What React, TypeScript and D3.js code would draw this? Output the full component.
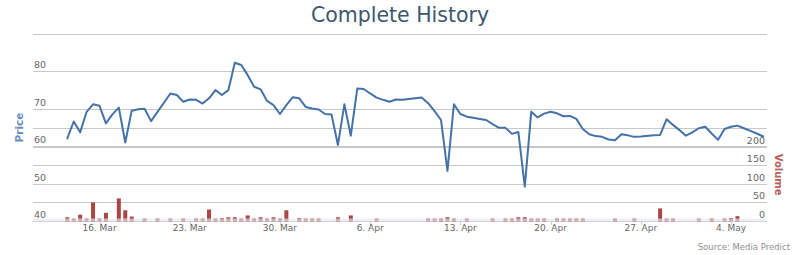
import React from "react";
import * as d3 from "d3";

const priceDates = [
  "2011-03-13 12","2011-03-14 00","2011-03-14 12","2011-03-15 00","2011-03-15 12","2011-03-16 00","2011-03-16 12",
  "2011-03-17 00","2011-03-17 12","2011-03-18 00","2011-03-18 12","2011-03-19 00","2011-03-19 12","2011-03-20 00",
  "2011-03-21 12","2011-03-22 00","2011-03-22 12","2011-03-23 00","2011-03-23 12","2011-03-24 00","2011-03-24 12",
  "2011-03-25 00","2011-03-25 12","2011-03-26 00","2011-03-26 12","2011-03-27 00","2011-03-27 12","2011-03-28 00",
  "2011-03-28 12","2011-03-29 00","2011-03-29 12","2011-03-30 00","2011-03-30 12","2011-03-31 00","2011-03-31 12",
  "2011-04-01 00","2011-04-01 12","2011-04-02 00","2011-04-02 12","2011-04-03 00","2011-04-03 12","2011-04-04 00",
  "2011-04-04 12","2011-04-05 00","2011-04-05 12","2011-04-06 00","2011-04-06 12","2011-04-07 00","2011-04-07 12",
  "2011-04-08 00","2011-04-08 12","2011-04-09 12","2011-04-10 00","2011-04-10 12","2011-04-11 00","2011-04-11 12",
  "2011-04-12 00","2011-04-12 12","2011-04-13 00","2011-04-13 12","2011-04-14 00","2011-04-14 12","2011-04-15 00",
  "2011-04-15 12","2011-04-16 00","2011-04-16 12","2011-04-17 00","2011-04-17 12","2011-04-18 00","2011-04-18 12",
  "2011-04-19 00","2011-04-19 12","2011-04-20 00","2011-04-20 12","2011-04-21 00","2011-04-21 12","2011-04-22 00",
  "2011-04-22 12","2011-04-23 00","2011-04-23 12","2011-04-24 00","2011-04-24 12","2011-04-25 00","2011-04-25 12",
  "2011-04-26 00","2011-04-26 12","2011-04-27 00","2011-04-28 00","2011-04-28 12","2011-04-29 00","2011-04-29 12",
  "2011-04-30 00","2011-04-30 12","2011-05-01 00","2011-05-01 12","2011-05-02 00","2011-05-02 12","2011-05-03 00",
  "2011-05-03 12","2011-05-04 00","2011-05-04 12","2011-05-05 00","2011-05-05 12","2011-05-06 00","2011-05-06 12",
];
const priceValues = [
  62.1, 66.6, 63.7, 69.2, 71.2, 70.8, 66.1,
  68.5, 70.3, 61.0, 69.5, 69.9, 70.0, 66.7,
  74.1, 73.7, 71.9, 72.5, 72.4, 71.4, 72.8,
  75.0, 73.7, 75.0, 82.3, 81.7, 79.0, 75.9,
  75.2, 72.1, 71.0, 68.6, 71.0, 73.1, 72.8,
  70.5, 70.1, 69.8, 68.6, 68.5, 60.3, 71.2,
  62.8, 75.4, 75.3, 74.1, 73.0, 72.4, 71.9,
  72.5, 72.4, 72.8, 73.0, 71.5, 69.4, 67.0,
  53.4, 71.2, 68.6, 67.9, 67.6, 67.3, 67.0,
  65.9, 64.9, 64.9, 63.3, 63.8, 49.2, 69.2,
  67.7, 68.7, 69.2, 68.8, 68.0, 68.1, 67.3,
  64.6, 63.2, 62.7, 62.5, 61.8, 61.6, 63.2,
  62.9, 62.5, 62.6, 62.9, 63.0, 67.2, 65.7,
  64.3, 62.8, 63.7, 64.8, 65.2, 63.4, 61.7,
  64.6, 65.2, 65.5, 64.8, 64.1, 63.4, 62.6,
];

const volumeDates = [
  "2011-03-13 12","2011-03-14 00","2011-03-14 12","2011-03-15 00","2011-03-15 12","2011-03-16 00","2011-03-16 12",
  "2011-03-17 12","2011-03-18 00","2011-03-18 12","2011-03-19 12","2011-03-20 12","2011-03-21 12","2011-03-22 12",
  "2011-03-23 12","2011-03-24 00","2011-03-24 12","2011-03-25 00","2011-03-25 12","2011-03-26 00","2011-03-26 12",
  "2011-03-27 00","2011-03-27 12","2011-03-28 00","2011-03-28 12","2011-03-29 00","2011-03-29 12","2011-03-30 00",
  "2011-03-30 12","2011-03-31 12","2011-04-01 00","2011-04-01 12","2011-04-02 00","2011-04-03 12","2011-04-04 12",
  "2011-04-06 12","2011-04-10 12","2011-04-11 00","2011-04-11 12","2011-04-12 00","2011-04-12 12","2011-04-13 12",
  "2011-04-15 12","2011-04-16 12","2011-04-17 00","2011-04-17 12","2011-04-18 00","2011-04-18 12","2011-04-19 00",
  "2011-04-19 12","2011-04-20 12","2011-04-21 00","2011-04-21 12","2011-04-22 00","2011-04-22 12","2011-04-25 00",
  "2011-04-26 12","2011-04-28 12","2011-04-29 00","2011-04-29 12","2011-05-01 12","2011-05-02 12","2011-05-03 12",
  "2011-05-04 00","2011-05-04 12",
];
const volumeValues = [
  10, 6, 17, 3, 50, 6, 22,
  61, 29, 12, 6, 3, 3, 3,
  4, 6, 31, 3, 8, 10, 10,
  4, 15, 4, 10, 3, 10, 4,
  29, 8, 3, 3, 5, 10, 15,
  3, 5, 3, 5, 10, 5, 3,
  3, 4, 4, 10, 10, 3, 2,
  4, 7, 3, 4, 3, 3, 3,
  3, 34, 3, 4, 3, 3, 3,
  8, 13,
];

const tickDates = [
  "2011-03-16 00","2011-03-23 00","2011-03-30 00","2011-04-06 00",
  "2011-04-13 00","2011-04-20 00","2011-04-27 00","2011-05-04 00",
];
const priceTicks = [40, 50, 60, 70, 80, 90];
const priceLabels = [40, 50, 60, 70, 80];
const volumeTicks = [0, 50, 100, 150, 200, 250];
const volumeLabels = [0, 50, 100, 150, 200];

const W = 800;
const H = 255;
const FONT = "'DejaVu Sans', Verdana, sans-serif";

export default function App() {
  const parse = d3.utcParse("%Y-%m-%d %H");
  const fmt = d3.utcFormat("%-d. %b");
  const left = 33;
  const right = 767;

  const x = d3
    .scaleUtc()
    .domain([parse("2011-03-16 00") as Date, parse("2011-05-04 00") as Date])
    .range([99.5, 731]);
  const yP = d3.scaleLinear().domain([40, 90]).range([221, 34]);
  const yV = d3.scaleLinear().domain([0, 250]).range([221, 128.3]);

  const price = priceDates.map((d, i) => ({ t: parse(d) as Date, v: priceValues[i] }));
  const volume = volumeDates.map((d, i) => ({ t: parse(d) as Date, v: volumeValues[i] }));

  const line = d3
    .line<{ t: Date; v: number }>()
    .x((d) => x(d.t))
    .y((d) => yP(d.v));

  const crisp = (v: number) => Math.round(v) + 0.5;
  const barW = 4;

  return (
    <svg
      width={W}
      height={H}
      style={{ position: "absolute", left: 0, top: 0, fontFamily: FONT }}
    >
      <rect x={0} y={0} width={W} height={H} fill="#fff" />
      <text x={400} y={21.5} textAnchor="middle" fontSize={20.5} fill="#3E576F">
        Complete History
      </text>

      {priceTicks.map((t) => (
        <line
          key={"gp" + t}
          x1={left}
          x2={right}
          y1={crisp(yP(t))}
          y2={crisp(yP(t))}
          stroke="#C8C8C8"
          strokeWidth={1}
        />
      ))}
      {volumeTicks.map((t) => (
        <line
          key={"gv" + t}
          x1={left}
          x2={right}
          y1={crisp(yV(t))}
          y2={crisp(yV(t))}
          stroke="#C8C8C8"
          strokeWidth={1}
        />
      ))}

      {priceLabels.map((t) => (
        <text key={"lp" + t} x={34} y={yP(t) - 3} fontSize={9.5} fill="#666">
          {t}
        </text>
      ))}
      {volumeLabels.map((t) => (
        <text
          key={"lv" + t}
          x={765}
          y={yV(t) - 3}
          fontSize={9.5}
          fill="#666"
          textAnchor="end"
        >
          {t}
        </text>
      ))}

      {volume.map((d, i) => (
        <rect
          key={"b" + i}
          x={x(d.t) - barW / 2}
          y={Math.min(yV(d.v), 218.5)}
          width={barW}
          height={221.5 - Math.min(yV(d.v), 218.5)}
          fill="#AA4643"
        />
      ))}

      {/* x axis band drawn over the column bases */}
      <rect x={left} y={218.5} width={right - left} height={3} fill="#E4EAF2" fillOpacity={0.65} />
      {tickDates.map((d) => {
        const t = parse(d) as Date;
        const px = crisp(x(t));
        return (
          <g key={d}>
            <line x1={px} x2={px} y1={221} y2={225} stroke="#C0D0E0" strokeWidth={1} />
            <text x={x(t)} y={231} textAnchor="middle" fontSize={9} fill="#666">
              {fmt(t)}
            </text>
          </g>
        );
      })}

      <path
        d={line(price) || ""}
        fill="none"
        stroke="#4572A7"
        strokeWidth={2}
        strokeLinejoin="round"
        strokeLinecap="round"
      />

      <text
        transform={`translate(23, ${yP(65)}) rotate(-90)`}
        textAnchor="middle"
        fontSize={10.5}
        fontWeight="bold"
        fill="#6A8FBF"
      >
        Price
      </text>
      <text
        transform={`translate(775, ${yV(125)}) rotate(90)`}
        textAnchor="middle"
        fontSize={10}
        fontWeight="bold"
        fill="#B4605D"
      >
        Volume
      </text>

      <text x={790} y={250} textAnchor="end" fontSize={8.5} fill="#909090">
        Source: Media Predict
      </text>
    </svg>
  );
}
